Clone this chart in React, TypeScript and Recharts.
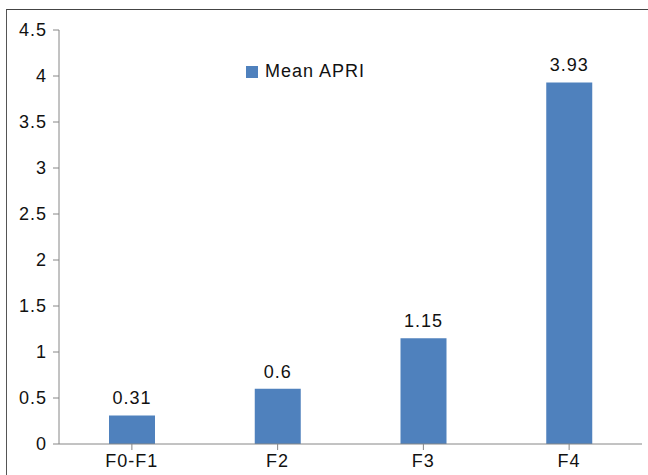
import React from "react";
import { BarChart, Bar, XAxis, YAxis, LabelList } from "recharts";

const categories = ["F0-F1", "F2", "F3", "F4"];
const meanApri = [0.31, 0.6, 1.15, 3.93];
const yTicks = [0, 0.5, 1, 1.5, 2, 2.5, 3, 3.5, 4, 4.5];
const seriesName = "Mean APRI";

const data = categories.map((c, i) => ({ cat: c, value: meanApri[i] }));

const FONT = "'Liberation Sans', Arial, sans-serif";
const textStyle = { fontSize: 18, letterSpacing: 1, fill: "#111", fontFamily: FONT };

export default function App() {
  return (
    <div style={{ position: "absolute", left: 0, top: 0, width: 648, height: 475, background: "#fff", overflow: "hidden" }}>
      <div style={{ position: "absolute", left: 6, top: 9, width: 700, height: 600, borderLeft: "1.5px solid #555", borderTop: "1.5px solid #444" }} />
      <div style={{ position: "absolute", left: 0, top: 0 }}>
        <BarChart width={648} height={475} data={data} margin={{ top: 30, right: 6, bottom: 0, left: 0 }}>
          <XAxis
            dataKey="cat"
            height={31}
            stroke="#868686"
            tickLine={{ stroke: "#868686" }}
            tickSize={6}
            tickMargin={4}
            tick={textStyle}
            interval={0}
          />
          <YAxis
            width={59}
            domain={[0, 4.5]}
            ticks={yTicks}
            stroke="#868686"
            tickLine={{ stroke: "#868686" }}
            tickSize={6}
            tickMargin={6}
            tick={textStyle}
            interval={0}
          />
          <Bar dataKey="value" name={seriesName} fill="#4F81BD" barSize={46} isAnimationActive={false}>
            <LabelList dataKey="value" position="top" offset={11} style={textStyle} />
          </Bar>
        </BarChart>
      </div>
      <div style={{ position: "absolute", left: 246, top: 61, display: "flex", alignItems: "center", fontFamily: FONT, fontSize: 18, letterSpacing: 1, color: "#111", whiteSpace: "nowrap" }}>
        <span style={{ display: "inline-block", width: 12, height: 12, background: "#4F81BD", marginRight: 7 }} />
        <span>{seriesName}</span>
      </div>
    </div>
  );
}
